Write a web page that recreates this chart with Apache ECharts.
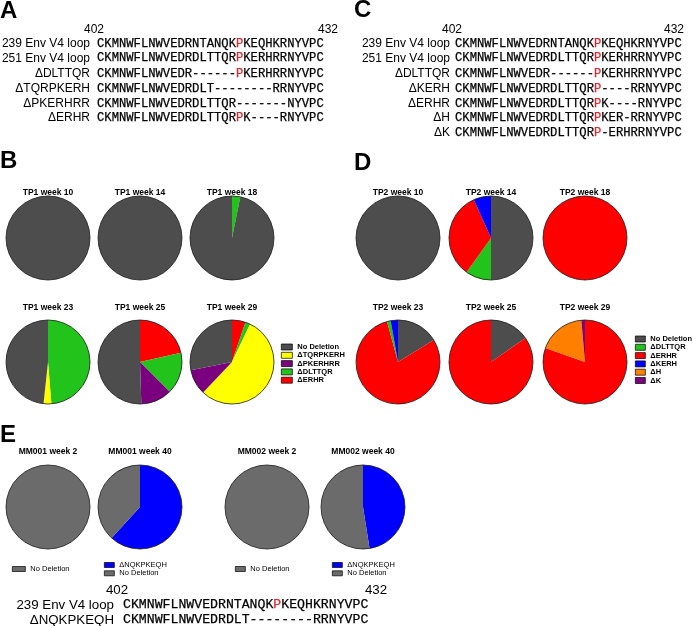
<!DOCTYPE html>
<html>
<head>
<meta charset="utf-8">
<title>Env V4 loop deletions</title>
<script src="https://cdn.jsdelivr.net/npm/echarts@6.0.0/dist/echarts.min.js"></script>
<style>
    html, body { margin: 0; padding: 0; background: #fff; }
    #chart { width: 696px; height: 626px; }
</style>
</head>
<body>
<div id="chart"></div>
<script>
// --- alignments (A, C, E) ---
const posTicks = ['402', '432'];

const seqNamesA = ['239 Env V4 loop', '251 Env V4 loop', 'ΔDLTTQR', 'ΔTQRPKERH', 'ΔPKERHRR', 'ΔERHR'];
const seqRowsA = [
    'CKMNWFLNWVEDRNTANQKPKEQHKRNYVPC',
    'CKMNWFLNWVEDRDLTTQRPKERHRRNYVPC',
    'CKMNWFLNWVEDR------PKERHRRNYVPC',
    'CKMNWFLNWVEDRDLT--------RRNYVPC',
    'CKMNWFLNWVEDRDLTTQR-------NYVPC',
    'CKMNWFLNWVEDRDLTTQRPK----RNYVPC'
];

const seqNamesC = ['239 Env V4 loop', '251 Env V4 loop', 'ΔDLTTQR', 'ΔKERH', 'ΔERHR', 'ΔH', 'ΔK'];
const seqRowsC = [
    'CKMNWFLNWVEDRNTANQKPKEQHKRNYVPC',
    'CKMNWFLNWVEDRDLTTQRPKERHRRNYVPC',
    'CKMNWFLNWVEDR------PKERHRRNYVPC',
    'CKMNWFLNWVEDRDLTTQRP----RRNYVPC',
    'CKMNWFLNWVEDRDLTTQRPK----RNYVPC',
    'CKMNWFLNWVEDRDLTTQRPKER-RRNYVPC',
    'CKMNWFLNWVEDRDLTTQRP-ERHRRNYVPC'
];

const seqNamesE = ['239 Env V4 loop', 'ΔNQKPKEQH'];
const seqRowsE = [
    'CKMNWFLNWVEDRNTANQKPKEQHKRNYVPC',
    'CKMNWFLNWVEDRDLT--------RRNYVPC'
];

// --- pies (B, D, E), slices listed clockwise from 12 o'clock, in % ---
const tp1Titles = ['TP1 week 10', 'TP1 week 14', 'TP1 week 18', 'TP1 week 23', 'TP1 week 25', 'TP1 week 29'];
const tp1Slices = [
    [['No Deletion', 100]],
    [['No Deletion', 100]],
    [['ΔDLTTQR', 3.2], ['No Deletion', 96.8]],
    [['ΔDLTTQR', 48.7], ['ΔTQRPKERH', 3], ['No Deletion', 48.3]],
    [['ΔERHR', 21.5], ['ΔDLTTQR', 16], ['ΔPKERHRR', 12], ['No Deletion', 50.5]],
    [['ΔERHR', 5.2], ['ΔDLTTQR', 1.9], ['ΔTQRPKERH', 55], ['ΔPKERHRR', 9.8], ['No Deletion', 28.1]]
];
const tp1Legend = ['No Deletion', 'ΔTQRPKERH', 'ΔPKERHRR', 'ΔDLTTQR', 'ΔERHR'];

const tp2Titles = ['TP2 week 10', 'TP2 week 14', 'TP2 week 18', 'TP2 week 23', 'TP2 week 25', 'TP2 week 29'];
const tp2Slices = [
    [['No Deletion', 100]],
    [['No Deletion', 50], ['ΔDLTTQR', 9.9], ['ΔERHR', 33.4], ['ΔKERH', 6.7]],
    [['ΔERHR', 100]],
    [['No Deletion', 16.2], ['ΔERHR', 79.6], ['ΔDLTTQR', 1.4], ['ΔKERH', 2.8]],
    [['No Deletion', 15.3], ['ΔERHR', 84.7]],
    [['ΔERHR', 80.4], ['ΔH', 18.2], ['ΔK', 1.4]]
];
const tp2Legend = ['No Deletion', 'ΔDLTTQR', 'ΔERHR', 'ΔKERH', 'ΔH', 'ΔK'];

const mmTitles = ['MM001 week 2', 'MM001 week 40', 'MM002 week 2', 'MM002 week 40'];
const mmSlices = [
    [['No Deletion', 100]],
    [['ΔNQKPKEQH', 61.8], ['No Deletion', 38.2]],
    [['No Deletion', 100]],
    [['ΔNQKPKEQH', 47.5], ['No Deletion', 52.5]]
];
const mmLegends = [
    ['No Deletion'],
    ['ΔNQKPKEQH', 'No Deletion'],
    ['No Deletion'],
    ['ΔNQKPKEQH', 'No Deletion']
];

// colours
const tpColors = {
    'No Deletion': '#4d4d4d',
    'ΔTQRPKERH': '#ffff00',
    'ΔPKERHRR': '#7b007f',
    'ΔDLTTQR': '#22c31a',
    'ΔERHR': '#ff0000',
    'ΔKERH': '#0000ff',
    'ΔH': '#ff8000',
    'ΔK': '#7b007f'
};
const mmColors = { 'No Deletion': '#6b6b6b', 'ΔNQKPKEQH': '#0000ff' };

const SANS = 'Liberation Sans';
const MONO = 'Liberation Mono';
const R = 42;

const series = [];
const graphic = [];
const legend = [];

function txt(x, y, text, size, weight, align) {
    graphic.push({
        type: 'text', x: x, y: y, silent: true,
        style: {
            text: text, fill: '#000', fontFamily: SANS, fontSize: size, fontWeight: weight,
            align: align, verticalAlign: 'middle'
        }
    });
}

// residue at index 19 is the P marked in red
function seqText(s) {
    return s[19] === 'P' ? s.slice(0, 19) + '{p|P}' + s.slice(20) : s;
}

function alignment(names, rows, labelRight, seqLeft, ys, labelSize, seqSize, tickY, tickX) {
    txt(tickX[0], tickY, posTicks[0], labelSize, 'normal', 'center');
    txt(tickX[1], tickY, posTicks[1], labelSize, 'normal', 'center');
    names.forEach((n, i) => {
        txt(labelRight, ys[i], n, labelSize, 'normal', 'right');
        graphic.push({
            type: 'text', x: seqLeft, y: ys[i], silent: true,
            style: {
                text: seqText(rows[i]), fill: '#000', fontFamily: MONO, fontSize: seqSize,
                align: 'left', verticalAlign: 'middle',
                stroke: '#000', lineWidth: 0.25,
                rich: { p: { fill: '#e5232a', stroke: '#e5232a', lineWidth: 0.25, fontFamily: MONO, fontSize: seqSize } }
            }
        });
    });
}

function pies(titles, slices, centers, titleYs, colors) {
    slices.forEach((sl, i) => {
        const c = centers[i];
        series.push({
            type: 'pie', center: c, radius: R, startAngle: 90, clockwise: true,
            silent: true, label: { show: false }, labelLine: { show: false },
            emphasis: { disabled: true }, itemStyle: { borderWidth: 0 },
            data: sl.map(d => ({ name: d[0], value: d[1], itemStyle: { color: colors[d[0]] } }))
        });
        // outline
        series.push({
            type: 'pie', center: c, radius: R, silent: true, z: 3,
            label: { show: false }, labelLine: { show: false }, emphasis: { disabled: true },
            data: [{ value: 1, itemStyle: { color: 'transparent', borderColor: '#1a1a1a', borderWidth: 0.8 } }]
        });
        txt(c[0], titleYs[i], titles[i], 8.5, 'bold', 'center');
    });
}

function addLegend(names, colors, left, top, width, height, weight) {
    legend.push({
        data: names.map(n => ({
            name: n, icon: 'rect',
            itemStyle: { color: colors[n], borderColor: '#000', borderWidth: 0.7 }
        })),
        orient: 'vertical', left: left, top: top, padding: 0,
        itemWidth: width, itemHeight: height, itemGap: 0.3, selectedMode: false,
        textStyle: { fontFamily: SANS, fontSize: 7.5, fontWeight: weight, color: '#000', lineHeight: 8 }
    });
}

// panel letters
txt(0, 11.5, 'A', 24, 'bold', 'left');
txt(0, 161.5, 'B', 24, 'bold', 'left');
txt(354, 10.5, 'C', 24, 'bold', 'left');
txt(354, 163.5, 'D', 24, 'bold', 'left');
txt(0, 435, 'E', 24, 'bold', 'left');

const rowYs = [43.3, 58.2, 73.3, 88.4, 103.3, 117.9, 132.7];
alignment(seqNamesA, seqRowsA, 90, 97, rowYs, 12, 12.2, 30, [94, 328]);
alignment(seqNamesC, seqRowsC, 450, 455, rowYs, 12, 12.2, 30, [452, 674]);
alignment(seqNamesE, seqRowsE, 114, 123, [605, 620], 13.3, 13.2, 590, [117, 376]);

const tpRows = [238, 238, 238, 362, 362, 362];
const tpTitleYs = [193, 193, 193, 308, 308, 308];
pies(tp1Titles, tp1Slices, [48, 140, 232, 48, 140, 232].map((x, i) => [x, tpRows[i]]), tpTitleYs, tpColors);
pies(tp2Titles, tp2Slices, [398, 491, 585, 398, 491, 585].map((x, i) => [x, tpRows[i]]), tpTitleYs, tpColors);
pies(mmTitles, mmSlices, [[48, 507], [140, 507], [267, 507], [363, 507]], [452, 452, 452, 452], mmColors);

addLegend(tp1Legend, tpColors, 281, 343, 11, 6, 'bold');
addLegend(tp2Legend, tpColors, 635, 335, 10, 6, 'bold');
addLegend(mmLegends[0], mmColors, 12, 565, 13, 5, 'normal');
addLegend(mmLegends[1], mmColors, 104, 561, 10, 5, 'normal');
addLegend(mmLegends[2], mmColors, 235, 565, 10, 5, 'normal');
addLegend(mmLegends[3], mmColors, 332, 561, 10, 5, 'normal');

const chart = echarts.init(document.getElementById('chart'));
chart.setOption({
    animation: false,
    backgroundColor: '#fff',
    legend: legend,
    series: series,
    graphic: graphic
});
</script>
</body>
</html>
